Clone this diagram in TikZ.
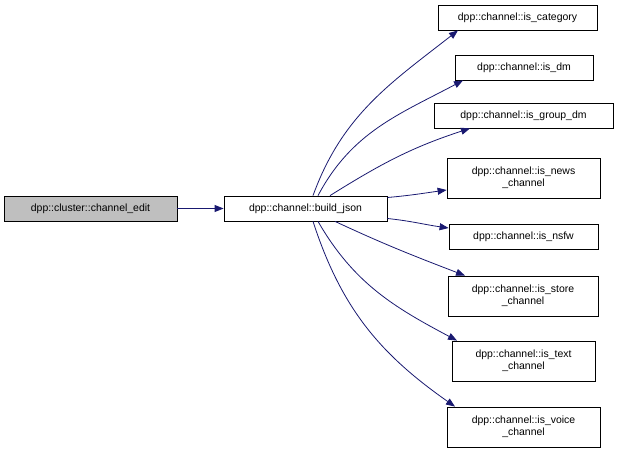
\documentclass[tikz,border=0pt]{standalone}
\usepackage{fontspec}
\setmainfont{Liberation Sans}
\usetikzlibrary{arrows.meta,calc}
\definecolor{edgeblue}{HTML}{191970}
\definecolor{boxgray}{HTML}{BFBFBF}
\tikzset{
  fn/.style={draw=black, line width=0.8bp, fill=white, inner sep=0pt, align=center,
    font=\fontsize{10.5}{12.5}\selectfont, minimum height=25bp},
  fn2/.style={fn, minimum height=40bp},
  edge/.style={draw=edgeblue, line width=0.8bp, -{Triangle[length=9bp,width=7bp]}},
}
\begin{document}
\begin{tikzpicture}[x=1bp,y=-1bp]
\useasboundingbox (0,0) rectangle (619,453);
\node[fn, fill=boxgray, minimum width=173bp] (ce) at (90.5,208.5) {dpp::cluster::channel\_edit};
\node[fn, minimum width=163bp] (bj) at (305.5,208.5) {dpp::channel::build\_json};
\node[fn, minimum width=159bp] (cat) at (517.5,17.5) {dpp::channel::is\_category};
\node[fn, minimum width=138bp] (dm) at (524,67.5) {dpp::channel::is\_dm};
\node[fn, minimum width=179bp] (gdm) at (523.5,115.5) {dpp::channel::is\_group\_dm};
\node[fn2, minimum width=153bp] (news) at (523.5,178) {dpp::channel::is\_news\\\_channel};
\node[fn, minimum width=149bp] (nsfw) at (523.5,237) {dpp::channel::is\_nsfw};
\node[fn2, minimum width=150bp] (store) at (523,296) {dpp::channel::is\_store\\\_channel};
\node[fn2, minimum width=143bp] (text) at (523.5,361) {dpp::channel::is\_text\\\_channel};
\node[fn2, minimum width=153bp] (voice) at (523.5,427) {dpp::channel::is\_voice\\\_channel};

\draw[edge] (ce) -- (bj);
\draw[edge] ([xshift=7.5bp]bj.north) to[out=70,in=218] ([xshift=-59.5bp]cat.south);
\draw[edge] ([xshift=12.5bp]bj.north) to[out=62,in=208] ([xshift=-61bp]dm.south);
\draw[edge] ([xshift=24.5bp]bj.north) to[out=32,in=198] ([xshift=-53.5bp]gdm.south);
\draw[edge] ([yshift=11bp]bj.east) to[out=5,in=188] ([yshift=-12bp]news.west);
\draw[edge] ([yshift=-10bp]bj.east) to[out=-6,in=172] ([yshift=9bp]nsfw.west);
\draw[edge] ([xshift=29.5bp]bj.south) to[out=-25,in=159] ([xshift=-58bp]store.north);
\draw[edge] ([xshift=12.5bp]bj.south) to[out=-60,in=152] ([xshift=-66.5bp]text.north);
\draw[edge] ([xshift=7.5bp]bj.south) to[out=-72,in=145] ([xshift=-68.5bp]voice.north);
\end{tikzpicture}
\end{document}
